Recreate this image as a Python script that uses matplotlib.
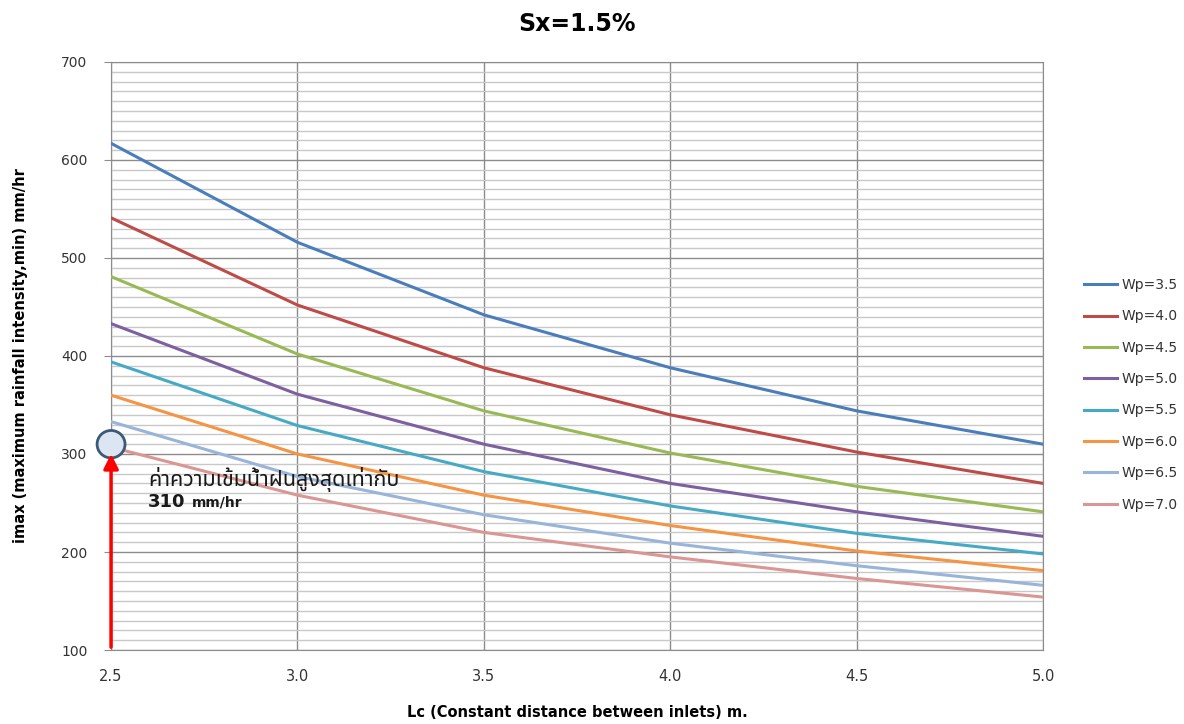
import matplotlib.pyplot as plt
import matplotlib.patches as mpatches
import numpy as np
from matplotlib.ticker import MultipleLocator

lc = [2.5, 3.0, 3.5, 4.0, 4.5, 5.0]
labels = ['Wp=3.5', 'Wp=4.0', 'Wp=4.5', 'Wp=5.0', 'Wp=5.5', 'Wp=6.0', 'Wp=6.5', 'Wp=7.0']
wp35 = [617, 516, 442, 388, 344, 310]
wp40 = [541, 452, 388, 340, 302, 270]
wp45 = [481, 402, 344, 301, 267, 241]
wp50 = [433, 361, 310, 270, 241, 216]
wp55 = [394, 329, 282, 247, 219, 198]
wp60 = [360, 300, 258, 227, 201, 181]
wp65 = [333, 277, 238, 209, 186, 166]
wp70 = [307, 258, 220, 195, 173, 154]
series = [wp35, wp40, wp45, wp50, wp55, wp60, wp65, wp70]
colors = ['#4A7EBB', '#BE4B48', '#98B954', '#7D60A0', '#46AAC5', '#F59443', '#98B4D9', '#DA9694']

fig = plt.figure(figsize=(11.84, 7.24), dpi=100)
ax = fig.add_axes([0.0938, 0.1022, 0.7872, 0.8122])

for y, c, lab in zip(series, colors, labels):
    ax.plot(lc, y, color=c, lw=2.2, label=lab, zorder=3)

ax.set_xlim(2.5, 5.0)
ax.set_ylim(100, 700)
ax.xaxis.set_major_locator(MultipleLocator(0.5))
ax.yaxis.set_major_locator(MultipleLocator(100))
ax.yaxis.set_minor_locator(MultipleLocator(10))
ax.xaxis.set_major_formatter(plt.FuncFormatter(lambda v, p: '%.1f' % v))
ax.grid(which='major', color='#8C8C8C', lw=1.0)
ax.grid(which='minor', axis='y', color='#C8C8C8', lw=1.0)
ax.set_axisbelow(True)
for s in ax.spines.values():
    s.set_color('#8C8C8C')
ax.tick_params(axis='y', which='major', length=5, color='#8C8C8C', labelsize=10, labelcolor='#333333', pad=12)
ax.tick_params(axis='y', which='minor', length=0)
ax.tick_params(axis='x', which='major', length=0, labelsize=10.5, labelcolor='#333333', pad=14)

ax.set_title('Sx=1.5%', fontsize=17, fontweight='bold', pad=22)
ax.set_xlabel('Lc (Constant distance between inlets) m.', fontsize=10.5, fontweight='bold', labelpad=15)
ax.set_ylabel('imax (maximum rainfall intensity,min) mm/hr', fontsize=10.5, fontweight='bold', labelpad=24)

# annotation
circ = mpatches.Ellipse((2.5, 310), 0.075, 28, facecolor='#DCE6F2', edgecolor='#3C5A78', lw=2, zorder=4, clip_on=False)
ax.add_patch(circ)
ax.annotate('', xy=(2.5, 303), xytext=(2.5, 100),
            arrowprops=dict(arrowstyle='-|>', color='#FF0000', lw=2.5, mutation_scale=22), zorder=5,
            annotation_clip=False)
thai = ['Noto Sans Thai', 'Noto Sans Thai Looped', 'Noto Serif Thai', 'Loma', 'Garuda', 'Norasi', 'Tlwg Typo', 'Noto Sans', 'DejaVu Sans']
ax.text(2.599, 274, 'ค่าความเข้มน้ำฝนสูงสุดเท่ากับ', fontsize=15.5, family=thai, color='#1A1A1A', va='center', zorder=6)
ax.text(2.599, 251, '310', fontsize=13, fontweight='bold', color='#1A1A1A', va='center', zorder=6)
ax.text(2.717, 251, 'mm/hr', fontsize=10, fontweight='bold', color='#1A1A1A', va='center', zorder=6)

leg = ax.legend(loc='center left', bbox_to_anchor=(1.03, 0.434), frameon=False, fontsize=10,
                handlelength=2.4, handletextpad=0.3, labelspacing=1.25)
for t in leg.get_texts():
    t.set_color('#333333')

fig.savefig('out.png', dpi=100)
